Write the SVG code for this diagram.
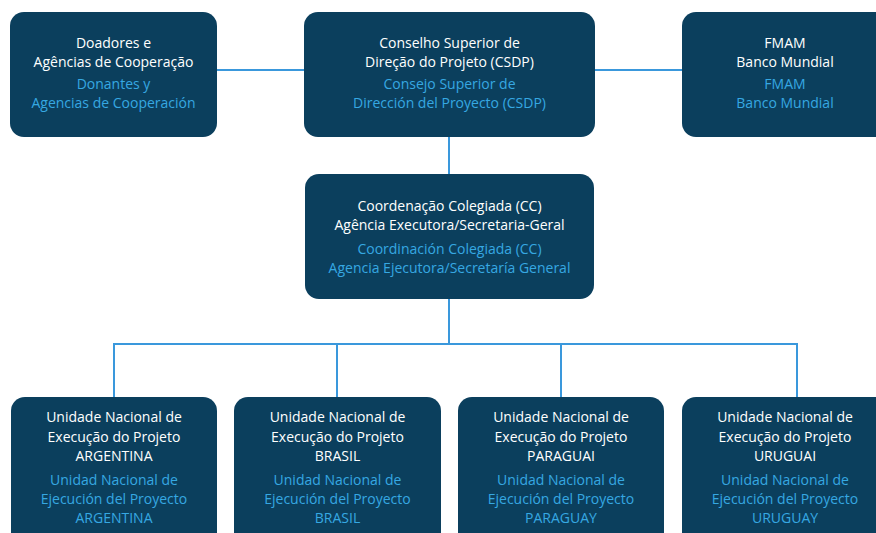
<svg xmlns="http://www.w3.org/2000/svg" width="876" height="533" viewBox="0 0 876 533">
<style>
.box{fill:#0b3f5d;}
.pt{fill:#ffffff;font-family:"Open Sans","Noto Sans",sans-serif;font-size:14px;font-weight:500;text-anchor:middle;}
.es{fill:#36a8e2;font-family:"Open Sans","Noto Sans",sans-serif;font-size:14px;text-anchor:middle;}
.ln{stroke:#3a98dc;stroke-width:2;fill:none;}
</style>
<rect width="876" height="533" fill="#ffffff"/>
<g id="connectors">
<line class="ln" x1="217" y1="70" x2="305" y2="70"/>
<line class="ln" x1="594" y1="70" x2="683" y2="70"/>
<line class="ln" x1="449" y1="136" x2="449" y2="175"/>
<line class="ln" x1="449" y1="297" x2="449" y2="344"/>
<polyline class="ln" points="114,398 114,344 797,344 797,398"/>
<line class="ln" x1="337" y1="344" x2="337" y2="398"/>
<line class="ln" x1="561" y1="344" x2="561" y2="398"/>
</g>
<g id="doadores">
<rect class="box" x="10" y="12" width="207" height="125" rx="14"/>
<text class="pt" x="113.5" y="48">Doadores e</text>
<text class="pt" x="113.5" y="67">Agências de Cooperação</text>
<text class="es" x="113.5" y="89">Donantes y</text>
<text class="es" x="113.5" y="108">Agencias de Cooperación</text>
</g>
<g id="csdp">
<rect class="box" x="304" y="12" width="291" height="125" rx="14"/>
<text class="pt" x="449.5" y="48">Conselho Superior de</text>
<text class="pt" x="449.5" y="67">Direção do Projeto (CSDP)</text>
<text class="es" x="449.5" y="89">Consejo Superior de</text>
<text class="es" x="449.5" y="108">Dirección del Proyecto (CSDP)</text>
</g>
<g id="fmam">
<rect class="box" x="682" y="12" width="214" height="125" rx="14"/>
<text class="pt" x="785" y="48">FMAM</text>
<text class="pt" x="785" y="67">Banco Mundial</text>
<text class="es" x="785" y="89">FMAM</text>
<text class="es" x="785" y="108">Banco Mundial</text>
</g>
<g id="cc">
<rect class="box" x="305" y="174" width="289" height="125" rx="14"/>
<text class="pt" x="449.5" y="211">Coordenação Colegiada (CC)</text>
<text class="pt" x="449.5" y="230">Agência Executora/Secretaria-Geral</text>
<text class="es" x="449.5" y="254">Coordinación Colegiada (CC)</text>
<text class="es" x="449.5" y="273">Agencia Ejecutora/Secretaría General</text>
</g>
<g id="argentina">
<rect class="box" x="11" y="397" width="206" height="150" rx="14"/>
<text class="pt" x="114" y="422">Unidade Nacional de</text>
<text class="pt" x="114" y="442">Execução do Projeto</text>
<text class="pt" x="114" y="461">ARGENTINA</text>
<text class="es" x="114" y="485">Unidad Nacional de</text>
<text class="es" x="114" y="504">Ejecución del Proyecto</text>
<text class="es" x="114" y="523">ARGENTINA</text>
</g>
<g id="brasil">
<rect class="box" x="234" y="397" width="207" height="150" rx="14"/>
<text class="pt" x="337.5" y="422">Unidade Nacional de</text>
<text class="pt" x="337.5" y="442">Execução do Projeto</text>
<text class="pt" x="337.5" y="461">BRASIL</text>
<text class="es" x="337.5" y="485">Unidad Nacional de</text>
<text class="es" x="337.5" y="504">Ejecución del Proyecto</text>
<text class="es" x="337.5" y="523">BRASIL</text>
</g>
<g id="paraguai">
<rect class="box" x="458" y="397" width="206" height="150" rx="14"/>
<text class="pt" x="561" y="422">Unidade Nacional de</text>
<text class="pt" x="561" y="442">Execução do Projeto</text>
<text class="pt" x="561" y="461">PARAGUAI</text>
<text class="es" x="561" y="485">Unidad Nacional de</text>
<text class="es" x="561" y="504">Ejecución del Proyecto</text>
<text class="es" x="561" y="523">PARAGUAY</text>
</g>
<g id="uruguai">
<rect class="box" x="682" y="397" width="214" height="150" rx="14"/>
<text class="pt" x="785" y="422">Unidade Nacional de</text>
<text class="pt" x="785" y="442">Execução do Projeto</text>
<text class="pt" x="785" y="461">URUGUAI</text>
<text class="es" x="785" y="485">Unidad Nacional de</text>
<text class="es" x="785" y="504">Ejecución del Proyecto</text>
<text class="es" x="785" y="523">URUGUAY</text>
</g>
</svg>
